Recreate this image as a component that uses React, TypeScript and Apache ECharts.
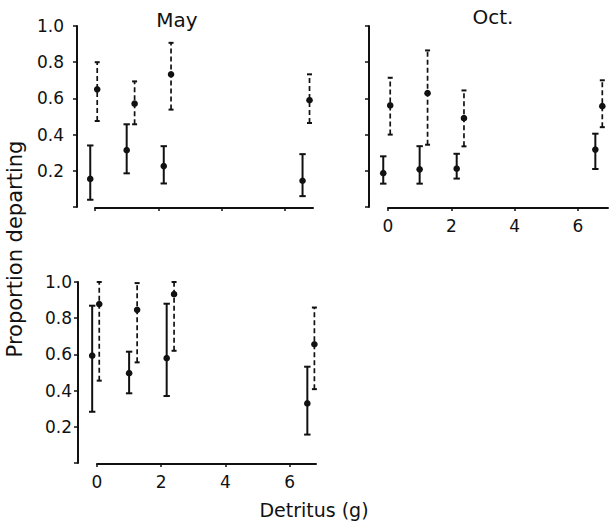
import React, { useEffect, useRef } from "react";
import * as echarts from "echarts";

// Detritus amounts (g) – solid = one group, dashed = other group (offset slightly)
const solidX = [-0.15, 1.0, 2.17, 6.55];
const dashedX = [0.07, 1.25, 2.4, 6.77];

// May panel
const maySolidMean = [0.155, 0.314, 0.226, 0.145];
const maySolidLo = [0.04, 0.186, 0.13, 0.06];
const maySolidHi = [0.34, 0.457, 0.336, 0.292];
const mayDashMean = [0.65, 0.571, 0.733, 0.59];
const mayDashLo = [0.475, 0.457, 0.538, 0.464];
const mayDashHi = [0.8, 0.694, 0.907, 0.733];

// Oct. panel
const octSolidMean = [0.187, 0.208, 0.212, 0.317];
const octSolidLo = [0.129, 0.129, 0.157, 0.21];
const octSolidHi = [0.28, 0.336, 0.294, 0.405];
const octDashMean = [0.561, 0.629, 0.491, 0.557];
const octDashLo = [0.4, 0.344, 0.335, 0.441];
const octDashHi = [0.714, 0.865, 0.644, 0.7];

// Bottom panel
const botSolidMean = [0.593, 0.496, 0.579, 0.329];
const botSolidLo = [0.283, 0.385, 0.37, 0.157];
const botSolidHi = [0.869, 0.615, 0.88, 0.532];
const botDashMean = [0.878, 0.846, 0.933, 0.656];
const botDashLo = [0.455, 0.556, 0.62, 0.408];
const botDashHi = [1.0, 0.994, 1.0, 0.859];

const xTicks = [0, 2, 4, 6];
const yTicks = [0.2, 0.4, 0.6, 0.8, 1.0];

const INK = "#111";
const FONT = "DejaVu Sans";

function rows(xs: number[], m: number[], lo: number[], hi: number[]) {
  return xs.map((x, i) => [x, m[i], lo[i], hi[i]]);
}

function renderer(dashed: boolean) {
  return (params: any, api: any) => {
    const x = api.value(0);
    const pm = api.coord([x, api.value(1)]);
    const pl = api.coord([x, api.value(2)]);
    const ph = api.coord([x, api.value(3)]);
    const cw = dashed ? 2.5 : 3.2;
    const capStyle = { stroke: INK, lineWidth: 2 };
    return {
      type: "group",
      children: [
        {
          type: "line",
          shape: { x1: pl[0], y1: pl[1], x2: ph[0], y2: ph[1] },
          style: { stroke: INK, lineWidth: dashed ? 1.7 : 2, lineDash: dashed ? [5, 3] : null },
        },
        { type: "line", shape: { x1: ph[0] - cw, y1: ph[1], x2: ph[0] + cw, y2: ph[1] }, style: capStyle },
        { type: "line", shape: { x1: pl[0] - cw, y1: pl[1], x2: pl[0] + cw, y2: pl[1] }, style: capStyle },
        { type: "circle", shape: { cx: pm[0], cy: pm[1], r: 3.3 }, style: { fill: INK } },
      ],
    };
  };
}

function xAxis(gridIndex: number, max: number, showLabels: boolean) {
  return {
    type: "value",
    gridIndex,
    min: 0,
    max,
    interval: 2,
    offset: 1,
    axisLine: { onZero: false, lineStyle: { color: INK, width: 2 } },
    axisTick: { show: true, length: 3, lineStyle: { color: INK, width: 1.5 }, customValues: xTicks },
    axisLabel: {
      show: showLabels,
      customValues: xTicks,
      margin: 9,
      color: INK,
      fontFamily: FONT,
      fontSize: 17,
      formatter: (v: number) => String(v),
    },
    splitLine: { show: false },
  };
}

function yAxis(gridIndex: number, offset: number, showLabels: boolean, margin: number) {
  return {
    type: "value",
    gridIndex,
    min: 0,
    max: 1,
    interval: 0.2,
    offset,
    axisLine: { show: true, onZero: false, lineStyle: { color: INK, width: 2 } },
    axisTick: { show: true, length: 4, lineStyle: { color: INK, width: 1.5 } },
    axisLabel: {
      show: showLabels,
      margin,
      color: INK,
      fontFamily: FONT,
      fontSize: 17,
      formatter: (v: number) => (yTicks.some((t) => Math.abs(t - v) < 1e-6) ? v.toFixed(1) : ""),
    },
    splitLine: { show: false },
  };
}

export default function App() {
  const ref = useRef<HTMLDivElement>(null);
  useEffect(() => {
    if (!ref.current) return;
    const chart = echarts.init(ref.current, null, { renderer: "svg" });
    const mk = (name: string, idx: number, dashed: boolean, data: number[][]) => ({
      name,
      type: "custom",
      xAxisIndex: idx,
      yAxisIndex: idx,
      renderItem: renderer(dashed),
      encode: { x: 0, y: [1, 2, 3] },
      data,
      clip: false,
    });
    chart.setOption({
      animation: false,
      backgroundColor: "#fff",
      grid: [
        { left: 95, top: 26, width: 218, height: 181 },
        { left: 388, top: 26, width: 220, height: 181 },
        { left: 97, top: 282, width: 219, height: 181 },
      ],
      xAxis: [xAxis(0, 6.88, false), xAxis(1, 6.95, true), xAxis(2, 6.82, true)],
      yAxis: [yAxis(0, 18, true, 13), yAxis(1, 19, false, 8), yAxis(2, 19, true, 6)],
      title: [
        { text: "May", left: 172, top: 5, textAlign: "center", textStyle: { fontFamily: FONT, fontSize: 20, fontWeight: "normal", color: INK } },
        { text: "Oct.", left: 488, top: 2, textAlign: "center", textStyle: { fontFamily: FONT, fontSize: 20, fontWeight: "normal", color: INK } },
      ],
      graphic: [
        {
          type: "text",
          x: 15,
          y: 249,
          rotation: Math.PI / 2,
          style: {
            text: "Proportion departing",
            fontFamily: FONT,
            fontSize: 21,
            fill: INK,
            align: "center",
            verticalAlign: "middle",
          },
        },
        {
          type: "text",
          x: 314,
          y: 510,
          style: {
            text: "Detritus (g)",
            fontFamily: FONT,
            fontSize: 19,
            fill: INK,
            align: "center",
            verticalAlign: "middle",
          },
        },
      ],
      series: [
        mk("May solid", 0, false, rows(solidX, maySolidMean, maySolidLo, maySolidHi)),
        mk("May dashed", 0, true, rows(dashedX, mayDashMean, mayDashLo, mayDashHi)),
        mk("Oct solid", 1, false, rows(solidX, octSolidMean, octSolidLo, octSolidHi)),
        mk("Oct dashed", 1, true, rows(dashedX, octDashMean, octDashLo, octDashHi)),
        mk("Bottom solid", 2, false, rows(solidX, botSolidMean, botSolidLo, botSolidHi)),
        mk("Bottom dashed", 2, true, rows(dashedX, botDashMean, botDashLo, botDashHi)),
      ],
    });
    return () => chart.dispose();
  }, []);
  return <div ref={ref} style={{ position: "absolute", left: 0, top: 0, width: 614, height: 525 }} />;
}
